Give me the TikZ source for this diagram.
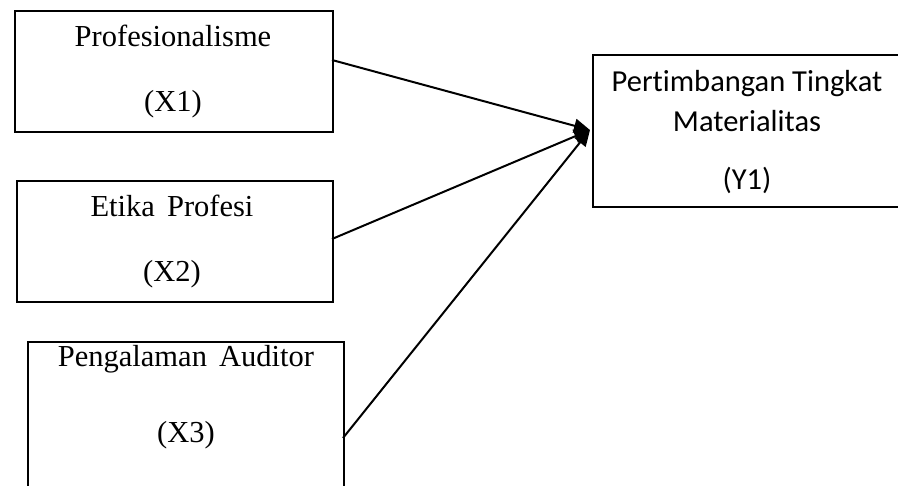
\documentclass[tikz,border=0pt]{standalone}
\usepackage{fontspec}
\setmainfont{Liberation Serif}
\newfontfamily\calib[Ligatures={NoCommon}]{Carlito}
\usetikzlibrary{arrows.meta}
\begin{document}
\begin{tikzpicture}[x=1pt,y=-1pt,
  box/.style={draw=black,line width=2pt,anchor=north west,inner sep=0pt},
  tms/.style={anchor=base,inner sep=0pt,font=\fontsize{30.5}{34}\selectfont},
  cal/.style={anchor=base,inner sep=0pt,font=\calib\fontsize{30.5}{34}\selectfont},
  conn/.style={line width=2pt,-{Triangle[length=16pt,width=14pt]}}]
\useasboundingbox (0,0) rectangle (898,486);
\begin{scope}
\clip (0,0) rectangle (898,486);
\node[box,minimum width=318pt,minimum height=121pt] (b1) at (14,10) {};
\node[box,minimum width=316pt,minimum height=121pt] (b2) at (16,180) {};
\node[box,minimum width=316pt,minimum height=160pt] (b3) at (27,341) {};
\node[box,minimum width=312pt,minimum height=152pt] (y) at (592,54) {};
\end{scope}
\node[tms] (t1a) at (173,47) {Profesionalisme};
\node[tms] (t1b) at (173,112) {(X1)};
\node[tms] (t2a) at (172,217) {Etika\hspace{0.4em}Profesi};
\node[tms] (t2b) at (172,282) {(X2)};
\node[tms] (t3a) at (186,367) {Pengalaman\hspace{0.4em}Auditor};
\node[tms] (t3b) at (186,443) {(X3)};
\node[cal] (ya) at (747,92) {Pertimbangan Tingkat};
\node[cal] (yb) at (747,132) {Materialitas};
\node[cal] (yc) at (747,190) {(Y1)};
\coordinate (tip) at (590,130);
\coordinate (s1) at (332,60);
\coordinate (s2) at (332,239);
\coordinate (s3) at (343,438);
\draw[conn] (s1) -- (tip);
\draw[conn] (s2) -- (tip);
\draw[conn] (s3) -- (tip);
\end{tikzpicture}
\end{document}
